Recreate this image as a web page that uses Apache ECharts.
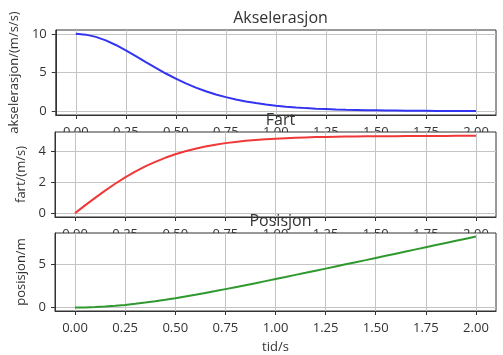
<!DOCTYPE html>
<html>
<head>
<meta charset="utf-8">
<script src="https://cdn.jsdelivr.net/npm/echarts@6/dist/echarts.min.js"></script>
<style>
  html, body { margin: 0; padding: 0; background: #fff; }
  #chart { width: 503px; height: 355px; }
</style>
</head>
<body>
<div id="chart"></div>
<script>
// tid (s)
var tid = [0, 0.05, 0.1, 0.15, 0.2, 0.25, 0.3, 0.35, 0.4, 0.45, 0.5,
           0.55, 0.6, 0.65, 0.7, 0.75, 0.8, 0.85, 0.9, 0.95, 1.0,
           1.05, 1.1, 1.15, 1.2, 1.25, 1.3, 1.35, 1.4, 1.45, 1.5,
           1.55, 1.6, 1.65, 1.7, 1.75, 1.8, 1.85, 1.9, 1.95, 2.0];
// akselerasjon (m/s/s)
var akselerasjon = [10, 9.90, 9.61, 9.15, 8.56, 7.86, 7.12, 6.35, 5.59, 4.87, 4.20,
                    3.59, 3.05, 2.57, 2.16, 1.81, 1.51, 1.25, 1.04, 0.86, 0.71,
                    0.58, 0.48, 0.39, 0.32, 0.27, 0.22, 0.18, 0.15, 0.12, 0.10,
                    0.08, 0.07, 0.05, 0.04, 0.04, 0.03, 0.02, 0.02, 0.02, 0.01];
// fart (m/s)
var fart = [0, 0.50, 0.99, 1.46, 1.90, 2.31, 2.69, 3.02, 3.32, 3.58, 3.81,
            4.00, 4.17, 4.31, 4.43, 4.53, 4.61, 4.68, 4.73, 4.78, 4.82,
            4.85, 4.88, 4.90, 4.92, 4.93, 4.95, 4.96, 4.96, 4.97, 4.98,
            4.98, 4.98, 4.99, 4.99, 4.99, 4.99, 4.99, 5.00, 5.00, 5.00];
// posisjon (m)
var posisjon = [0, 0.01, 0.05, 0.11, 0.19, 0.30, 0.43, 0.57, 0.73, 0.90, 1.08,
                1.28, 1.48, 1.70, 1.91, 2.14, 2.37, 2.60, 2.83, 3.07, 3.31,
                3.55, 3.80, 4.04, 4.29, 4.53, 4.78, 5.03, 5.28, 5.52, 5.77,
                6.02, 6.27, 6.52, 6.77, 7.02, 7.27, 7.52, 7.77, 8.02, 8.27];

var xTicks = [0, 0.25, 0.5, 0.75, 1.0, 1.25, 1.5, 1.75, 2.0];
var yTicks1 = [0, 5, 10];
var yTicks2 = [0, 2, 4];
var yTicks3 = [0, 5];

var titler = ['Akselerasjon', 'Fart', 'Posisjon'];
var yNavn = ['akselerasjon/(m/s/s)', 'fart/(m/s)', 'posisjon/m'];

var FONT = '"Open Sans", "DejaVu Sans", sans-serif';
var TXT = '#333';
var gridTops = [30, 132, 233];
var yRanges = [[-0.5, 10.5], [-0.25, 5.25], [-0.41, 8.68]];
var yTicksAll = [yTicks1, yTicks2, yTicks3];
var farger = ['#3333f2', '#f03838', '#2f992f'];
var serieData = [akselerasjon, fart, posisjon];

function par(ys) {
  var out = [];
  for (var i = 0; i < tid.length; i++) out.push([tid[i], ys[i]]);
  return out;
}

var grids = [], xAxes = [], yAxes = [], series = [], titles = [], dekk = [];
for (var k = 0; k < 3; k++) {
  var zk = k * 10;
  grids.push({
    left: 55, width: 441, top: gridTops[k], height: 85,
    show: true, borderColor: '#333', borderWidth: 1,
    z: zk + 2
  });
  xAxes.push({
    type: 'value', gridIndex: k, min: -0.1, max: 2.1, z: zk + 2,
    name: k === 2 ? 'tid/s' : '', nameLocation: 'middle', nameGap: 30,
    nameTextStyle: { fontFamily: FONT, fontSize: 13, color: TXT },
    axisLine: { show: true, onZero: false, lineStyle: { color: '#333', width: 1 } },
    axisTick: { show: true, length: 4, customValues: xTicks, lineStyle: { color: '#333' } },
    axisLabel: {
      customValues: xTicks, margin: 11, fontFamily: FONT, fontSize: 13, color: TXT,
      formatter: function (v) { return v.toFixed(2); }
    },
    splitLine: { show: true, lineStyle: { color: '#c4c4c4', width: 1 } }
  });
  yAxes.push({
    type: 'value', gridIndex: k, min: yRanges[k][0], max: yRanges[k][1], z: zk + 2,
    name: yNavn[k], nameLocation: 'middle', nameRotate: 90,
    nameGap: k === 0 ? 27 : 20,
    nameTextStyle: { fontFamily: FONT, fontSize: 13, color: TXT },
    axisLine: { show: true, onZero: false, lineStyle: { color: '#333', width: 1 } },
    axisTick: { show: true, length: 4, customValues: yTicksAll[k], lineStyle: { color: '#333' } },
    axisLabel: { customValues: yTicksAll[k], margin: 9, fontFamily: FONT, fontSize: 13, color: TXT },
    splitLine: { show: true, lineStyle: { color: '#c4c4c4', width: 1 } }
  });
  series.push({
    type: 'line', xAxisIndex: k, yAxisIndex: k, data: par(serieData[k]),
    showSymbol: false, smooth: false, z: zk + 3,
    lineStyle: { color: farger[k], width: 2 }
  });
  titles.push({
    text: titler[k], left: 275.5, top: gridTops[k] - 25, textAlign: 'center', z: 50,
    textStyle: { fontFamily: FONT, fontSize: 16, fontWeight: 'normal', color: TXT }
  });
  // white axes background that hides the tick labels of the panel above
  if (k > 0) {
    dekk.push({
      type: 'rect', z: zk + 1, silent: true,
      shape: { x: 55, y: gridTops[k], width: 441, height: 85 },
      style: { fill: '#fff' }
    });
  }
}

var chart = echarts.init(document.getElementById('chart'), null, { renderer: 'canvas' });
chart.setOption({
  animation: false,
  backgroundColor: '#fff',
  title: titles,
  graphic: dekk,
  grid: grids,
  xAxis: xAxes,
  yAxis: yAxes,
  series: series
});
</script>
</body>
</html>
